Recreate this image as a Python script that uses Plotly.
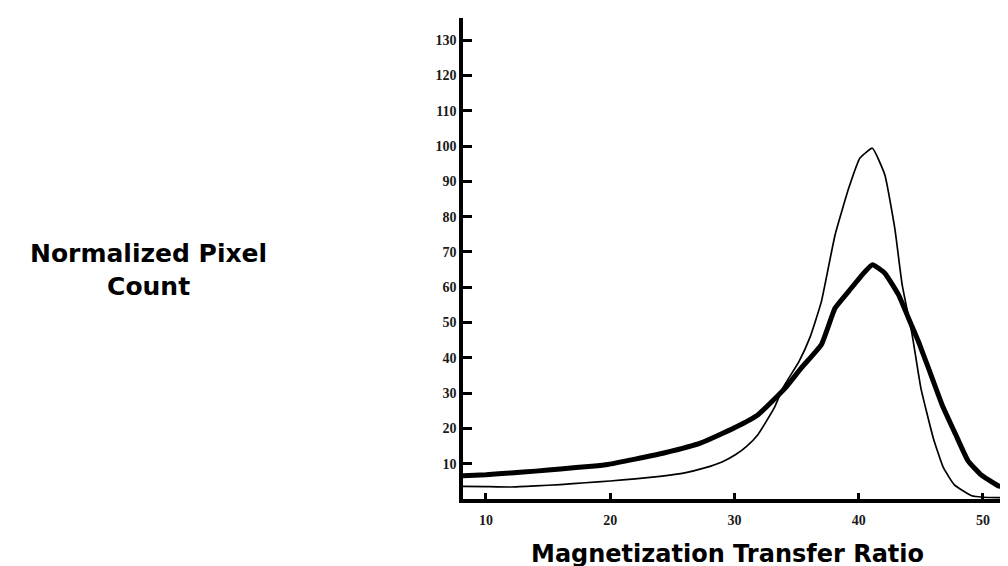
import plotly.graph_objects as go

# Thin curve (sharper peak)
thin_x = [8.15, 10, 12, 14, 16, 18, 20, 22, 24, 26, 27.6, 29, 30.1, 31, 31.9, 33.2, 33.9, 35.2, 36.1, 37.0,
          38.1, 39.2, 40.1, 41.1, 42.1, 42.9, 43.5, 44.3, 45.0, 46.0, 46.8, 47.7, 49.1, 50, 52.66]
thin_y = [3.6, 3.5, 3.4, 3.7, 4.1, 4.6, 5.1, 5.7, 6.4, 7.4, 8.8, 10.5, 12.6, 15, 18.3, 25.8, 31.5, 39, 46, 56,
          74.9, 88.1, 96.6, 99.4, 91.9, 76.8, 60.7, 46.6, 31.5, 17.3, 9, 4.0, 0.9, 0.5, 0.3]

# Thick curve (broader peak)
thick_x = [8.15, 10, 12, 14, 16, 18.5, 19.8, 22, 24.4, 27.3, 30.0, 31.9, 34.1, 35.4, 37.0, 38.1, 39.2, 40.3,
           41.1, 42.1, 43.2, 44.0, 44.8, 45.6, 46.7, 47.8, 48.8, 49.8, 51.2, 52.66]
thick_y = [6.6, 6.9, 7.4, 7.9, 8.5, 9.3, 9.8, 11.3, 13.1, 15.9, 20.2, 23.9, 31.5, 37.2, 43.8, 54.1, 58.9, 63.6,
           66.4, 64, 57.9, 51.3, 44.7, 37.2, 26.8, 18.3, 10.8, 7.0, 3.8, 2.6]

x_ticks = [10, 20, 30, 40, 50]
y_ticks = [10, 20, 30, 40, 50, 60, 70, 80, 90, 100, 110, 120, 130]

fig = go.Figure()
fig.add_trace(go.Scatter(x=thin_x, y=thin_y, mode="lines",
                         line=dict(color="black", width=1.7, shape="spline", smoothing=0.4),
                         showlegend=False))
fig.add_trace(go.Scatter(x=thick_x, y=thick_y, mode="lines",
                         line=dict(color="black", width=5, shape="spline", smoothing=0.4),
                         showlegend=False))

tickfont = dict(family="Liberation Serif", size=14, color="#1a1a1a", weight="bold")

fig.update_layout(
    width=1008, height=566,
    margin=dict(l=455, r=0, t=10, b=75),
    paper_bgcolor="white", plot_bgcolor="white",
    xaxis=dict(range=[8.15, 52.66], tickvals=x_ticks, ticktext=[str(v) for v in x_ticks],
               showgrid=False, zeroline=False, showline=True, linecolor="black", linewidth=3.5,
               ticks="inside", ticklen=6, tickwidth=2.5, tickcolor="black",
               tickfont=tickfont, ticklabelstandoff=5),
    yaxis=dict(range=[0, 136.3], tickvals=y_ticks, ticktext=[str(v) for v in y_ticks],
               showgrid=False, zeroline=False, showline=True, linecolor="black", linewidth=3.5,
               ticks="inside", ticklen=9, tickwidth=2.5, tickcolor="black",
               tickfont=tickfont, ticklabelstandoff=0),
    annotations=[
        dict(text="Normalized Pixel<br>Count", xref="paper", yref="paper",
             x=(140 - 455) / 553, y=(491 - 262) / 481, xanchor="center", yanchor="middle",
             showarrow=False, align="center",
             font=dict(family="DejaVu Sans", size=25, color="black", weight="bold")),
        dict(text="Magnetization Transfer Ratio", xref="paper", yref="paper",
             x=(719 - 455) / 553, y=-(546 - 491) / 481, xanchor="center", yanchor="middle",
             showarrow=False,
             font=dict(family="DejaVu Sans", size=24, color="black", weight="bold")),
    ],
)

fig.write_html("out.html")
